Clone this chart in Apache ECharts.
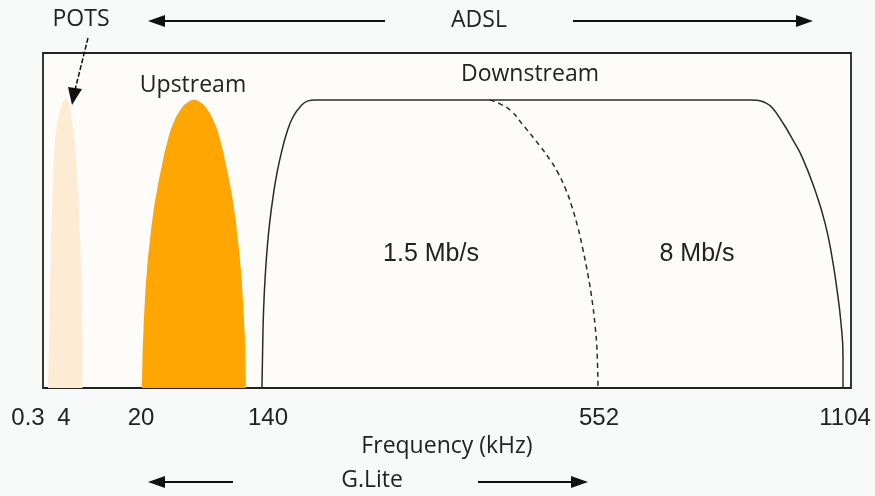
<!DOCTYPE html>
<html>
<head>
<meta charset="utf-8">
<script src="https://cdn.jsdelivr.net/npm/echarts@6/dist/echarts.min.js"></script>
<style>
  html, body { margin: 0; padding: 0; background: #f8fafa; }
  #chart { width: 875px; height: 496px; }
</style>
</head>
<body>
<div id="chart"></div>
<script>
// schematic frequency axis: 0..100 across the box (not linear, not log)
const tickLabels = ['0.3', '4', '20', '140', '552', '1104'];
const tickSlots = [0, 2.6, 12.13, 27.85, 68.81, 99.26];

// relative level 0..1
const pots = [
  [0.66, 0], [0.87, 0.284], [1.2, 0.582], [1.7, 0.779], [2.85, 0.866],
  [3.71, 0.779], [4.33, 0.582], [4.79, 0.284], [4.91, 0]
];
const upstream = [
  [12.25, 0], [12.31, 0.084], [12.44, 0.173], [12.62, 0.263], [12.87, 0.352],
  [13.24, 0.442], [13.61, 0.516], [14.11, 0.591], [14.73, 0.666], [15.35, 0.731],
  [16.09, 0.788], [17.08, 0.833], [17.95, 0.854], [18.69, 0.86], [19.43, 0.854],
  [20.3, 0.833], [21.29, 0.788], [22.03, 0.731], [22.65, 0.666], [23.27, 0.591],
  [23.76, 0.516], [24.13, 0.442], [24.5, 0.352], [24.75, 0.263], [24.94, 0.173],
  [25.06, 0.084], [25.12, 0]
];
const downstream = [
  [27.1, 0], [27.18, 0.113], [27.3, 0.233], [27.51, 0.337], [27.78, 0.427],
  [28.09, 0.501], [28.47, 0.57], [28.96, 0.642], [29.58, 0.71], [30.2, 0.764],
  [30.94, 0.809], [31.81, 0.839], [32.8, 0.857], [33.66, 0.86], [87.5, 0.86],
  [88.37, 0.859], [89.36, 0.852], [90.22, 0.837], [91.58, 0.791], [92.82, 0.74],
  [93.94, 0.69], [95.54, 0.591], [96.78, 0.493], [97.65, 0.391], [98.27, 0.293],
  [98.76, 0.194], [99.01, 0.0925], [99.01, 0]
];
const glite = [
  [55.32, 0.86], [56.56, 0.848], [57.92, 0.827], [59.41, 0.785], [61.51, 0.722],
  [62.75, 0.681], [63.74, 0.642], [64.73, 0.591], [65.47, 0.54], [66.21, 0.478],
  [66.83, 0.412], [67.45, 0.337], [67.95, 0.263], [68.32, 0.188], [68.56, 0.113],
  [68.69, 0]
];

const textFont = '"Open Sans", sans-serif';
const numFont = '"Liberation Sans", Arial, sans-serif';
const ink = '#222';

const chart = echarts.init(document.getElementById('chart'));

function label(text, x, y, font, size) {
  return {
    type: 'text', x: x, y: y,
    style: {
      text: text, fill: ink, font: size + 'px ' + font,
      align: 'center', verticalAlign: 'middle'
    }
  };
}
function arrow(x1, x2, y) {
  // x2 is the tip
  const dir = x2 > x1 ? 1 : -1;
  const base = x2 - dir * 17;
  return [
    { type: 'line', shape: { x1: x1, y1: y, x2: base, y2: y }, style: { stroke: '#111', lineWidth: 1.8 } },
    { type: 'polygon', shape: { points: [[x2, y], [base, y - 6], [base, y + 6]] }, style: { fill: '#111' } }
  ];
}

const option = {
  backgroundColor: '#f8fafa',
  animation: false,
  grid: {
    left: 43, right: 24, top: 53, bottom: 108,
    show: true,
    backgroundColor: '#fefcf8',
    borderColor: '#222',
    borderWidth: 1.8
  },
  xAxis: {
    type: 'value',
    min: 0,
    max: 100,
    name: 'Frequency (kHz)',
    nameLocation: 'middle',
    nameGap: 37,
    nameTextStyle: { color: ink, fontFamily: textFont, fontSize: 23 },
    axisLine: { show: false },
    axisTick: { show: false },
    splitLine: { show: false },
    axisLabel: {
      customValues: tickSlots,
      margin: 18,
      color: ink,
      fontFamily: numFont,
      fontSize: 24,
      formatter: function (v) {
        const i = tickSlots.indexOf(v);
        return i === 0 ? '{first|' + tickLabels[0] + '}' : tickLabels[i];
      },
      rich: {
        first: { color: ink, fontFamily: numFont, fontSize: 24, padding: [0, 30, 0, 0] }
      }
    }
  },
  yAxis: {
    type: 'value',
    min: 0,
    max: 1,
    show: false
  },
  series: [
    {
      name: 'POTS', type: 'line', data: pots, smooth: 0.4, showSymbol: false,
      lineStyle: { width: 0 }, areaStyle: { color: '#fdebd4', opacity: 1 }
    },
    {
      name: 'Upstream', type: 'line', data: upstream, smooth: 0.5, showSymbol: false,
      lineStyle: { width: 0 }, areaStyle: { color: '#ffa602', opacity: 1 }
    },
    {
      name: 'Downstream', type: 'line', data: downstream, smooth: 0.5, showSymbol: false,
      lineStyle: { color: '#2a2a2a', width: 1.5 }
    },
    {
      name: 'G.Lite', type: 'line', data: glite, smooth: 0.5, showSymbol: false,
      lineStyle: { color: '#2a2a2a', width: 1.5, type: [5, 4] }
    }
  ],
  graphic: [
    label('POTS', 81, 19, textFont, 23),
    label('ADSL', 479, 20, textFont, 23),
    label('Upstream', 193, 85, textFont, 23),
    label('Downstream', 530, 74, textFont, 23),
    label('1.5 Mb/s', 431, 254, numFont, 25),
    label('8 Mb/s', 697, 254, numFont, 25),
    label('G.Lite', 372, 480, textFont, 23),
    ...arrow(385, 148, 21),
    ...arrow(573, 813, 21),
    ...arrow(233, 148, 482),
    ...arrow(478, 588, 482),
    {
      type: 'line', shape: { x1: 88, y1: 38, x2: 75, y2: 90 },
      style: { stroke: '#111', lineWidth: 1.5, lineDash: [5, 2] }
    },
    {
      type: 'polygon', shape: { points: [[72, 105], [68, 87], [82, 89]] },
      style: { fill: '#111' }
    }
  ]
};

chart.setOption(option);
</script>
</body>
</html>
